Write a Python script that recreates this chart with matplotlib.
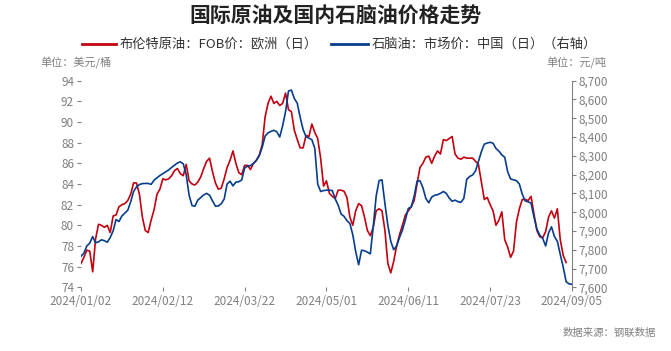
import matplotlib.pyplot as plt
import numpy as np

plt.rcParams['font.family'] = ['Noto Sans CJK SC', 'DejaVu Sans']

# 布伦特原油 FOB 欧洲 (美元/桶), 按交易日
brent = [76.3, 76.9, 77.6, 77.5, 75.5, 78.7, 80.1, 80.0, 79.8, 80.0,
         79.3, 80.9, 81.0, 81.8, 82.0, 82.1, 82.4, 83.0, 84.1, 84.1,
         83.0, 80.8, 79.5, 79.3, 80.5, 81.5, 83.0, 83.5, 84.5, 84.4,
         84.5, 84.8, 85.3, 85.5, 85.0, 84.8, 85.9, 84.3, 84.0, 83.9,
         84.2, 84.7, 85.5, 86.2, 86.5, 85.2, 84.1, 83.5, 83.6, 84.5,
         85.6, 86.3, 87.2, 86.0, 85.1, 84.9, 85.8, 85.8, 85.4, 86.0,
         86.3, 86.8, 87.8, 90.5, 91.8, 92.5, 91.8, 92.0, 91.6, 91.8,
         92.8, 91.2, 91.0, 89.2, 88.3, 87.5, 87.5, 88.7, 88.6, 89.8,
         89.0, 88.4, 86.5, 83.8, 84.3, 83.1, 82.8, 82.6, 83.4, 83.4,
         83.3, 82.7, 80.8, 80.0, 81.4, 82.1, 81.9, 80.8, 79.5, 79.0,
         79.8, 81.4, 81.6, 81.4, 79.5, 76.3, 75.4, 76.5, 78.0, 79.1,
         80.0, 81.0, 81.4, 81.8, 82.4, 84.0, 85.6, 86.0, 86.6, 86.7,
         86.0, 86.7, 87.2, 86.9, 88.3, 88.2, 88.4, 88.6, 86.9, 86.5,
         86.4, 86.6, 86.5, 86.5, 86.5, 86.2, 85.9, 84.2, 82.5, 82.7,
         82.0, 81.4, 80.0, 80.5, 81.3, 78.6, 77.9, 76.9, 77.5, 80.3,
         81.6, 82.5, 82.5, 82.4, 82.8, 81.1, 79.5, 78.9, 78.8, 79.4,
         80.8, 81.4, 80.7, 81.6, 78.6, 77.1, 76.4]

# 石脑油 市场价 中国 (元/吨)
naphtha = [7765, 7782, 7820, 7835, 7870, 7837, 7842, 7853, 7848, 7840,
           7865, 7900, 7961, 7950, 7980, 7995, 8010, 8055, 8110, 8135,
           8147, 8152, 8153, 8153, 8148, 8170, 8183, 8195, 8205, 8215,
           8225, 8238, 8250, 8262, 8268, 8257, 8200, 8090, 8035, 8032,
           8065, 8078, 8092, 8100, 8090, 8060, 8032, 8033, 8045, 8070,
           8150, 8165, 8140, 8160, 8162, 8172, 8235, 8245, 8248, 8259,
           8275, 8300, 8345, 8405, 8422, 8430, 8436, 8428, 8400, 8460,
           8535, 8645, 8650, 8605, 8580, 8505, 8440, 8402, 8394, 8386,
           8340, 8150, 8110, 8115, 8117, 8117, 8115, 8070, 8037, 7990,
           7978, 7955, 7940, 7880, 7790, 7720, 7797, 7795, 7787, 7778,
           7922, 8085, 8168, 8172, 8046, 7930, 7845, 7800, 7820, 7865,
           7905, 7960, 8020, 8027, 8085, 8165, 8167, 8130, 8073, 8050,
           8080, 8090, 8093, 8100, 8110, 8100, 8075, 8058, 8064, 8056,
           8052, 8073, 8175, 8190, 8198, 8220, 8270, 8322, 8362, 8368,
           8372, 8367, 8339, 8325, 8305, 8292, 8215, 8177, 8172, 8168,
           8150, 8095, 8060, 8055, 8048, 7975, 7910, 7877, 7860, 7820,
           7890, 7922, 7870, 7845, 7775, 7708, 7630, 7618, 7616]

x_labels = ['2024/01/02', '2024/02/12', '2024/03/22', '2024/05/01',
            '2024/06/11', '2024/07/23', '2024/09/05']
tick_step = 28

red = '#C3000F'
blue = '#063D8C'
gray = '#808080'

fig = plt.figure(figsize=(6.71, 3.51), dpi=100)
ax = fig.add_axes([0.1207, 0.1815, 0.7317, 0.5886])
ax2 = ax.twinx()

ax.plot(np.arange(len(brent)), brent, color=red, lw=1.2)
ax2.plot(np.arange(len(naphtha)), naphtha, color=blue, lw=1.2)

ax.set_xlim(0, tick_step * (len(x_labels) - 1))
ax.set_ylim(74, 94)
ax.set_yticks(np.arange(74, 95, 2))
ax2.set_ylim(7600, 8700)
ax2.set_yticks(np.arange(7600, 8701, 100))
ax2.set_yticklabels([f'{v:,}' for v in range(7600, 8701, 100)])
ax.set_xticks(np.arange(len(x_labels)) * tick_step)
ax.set_xticklabels(x_labels)

for s in ['left', 'top', 'bottom', 'right']:
    ax.spines[s].set_visible(False)
for s in ['left', 'top', 'bottom']:
    ax2.spines[s].set_visible(False)
ax2.spines['right'].set_color(gray)
ax2.spines['right'].set_linewidth(0.8)

ax.tick_params(axis='y', colors=gray, length=3, width=0.8, pad=2, labelsize=8.5)
ax.tick_params(axis='x', colors=gray, length=3, width=0.8, pad=2.5, labelsize=8.5)
ax2.tick_params(axis='y', colors=gray, length=3, width=0.8, pad=2, labelsize=8.5)

fig.text(0.5, 0.955, '国际原油及国内石脑油价格走势', ha='center', va='center',
         fontsize=15, fontweight='bold', color='#222222')

# 图例
fig.add_artist(plt.Line2D([82 / 671, 116 / 671], [1 - 44 / 351] * 2, color=red, lw=2))
fig.text(120 / 671, 1 - 44 / 351, '布伦特原油：FOB价：欧洲（日）', ha='left', va='center',
         fontsize=9.5, color='#333333')
fig.add_artist(plt.Line2D([331 / 671, 368 / 671], [1 - 44 / 351] * 2, color=blue, lw=2))
fig.text(372 / 671, 1 - 44 / 351, '石脑油：市场价：中国（日）（右轴）', ha='left', va='center',
         fontsize=9.5, color='#333333')

fig.text(40 / 671, 1 - 63 / 351, '单位：美元/桶', ha='left', va='center', fontsize=8, color=gray)
fig.text(606 / 671, 1 - 63 / 351, '单位：元/吨', ha='right', va='center', fontsize=8, color=gray)
fig.text(656 / 671, 1 - 333 / 351, '数据来源：钢联数据', ha='right', va='center', fontsize=7.5, color=gray)

fig.savefig('out.png', dpi=100)
